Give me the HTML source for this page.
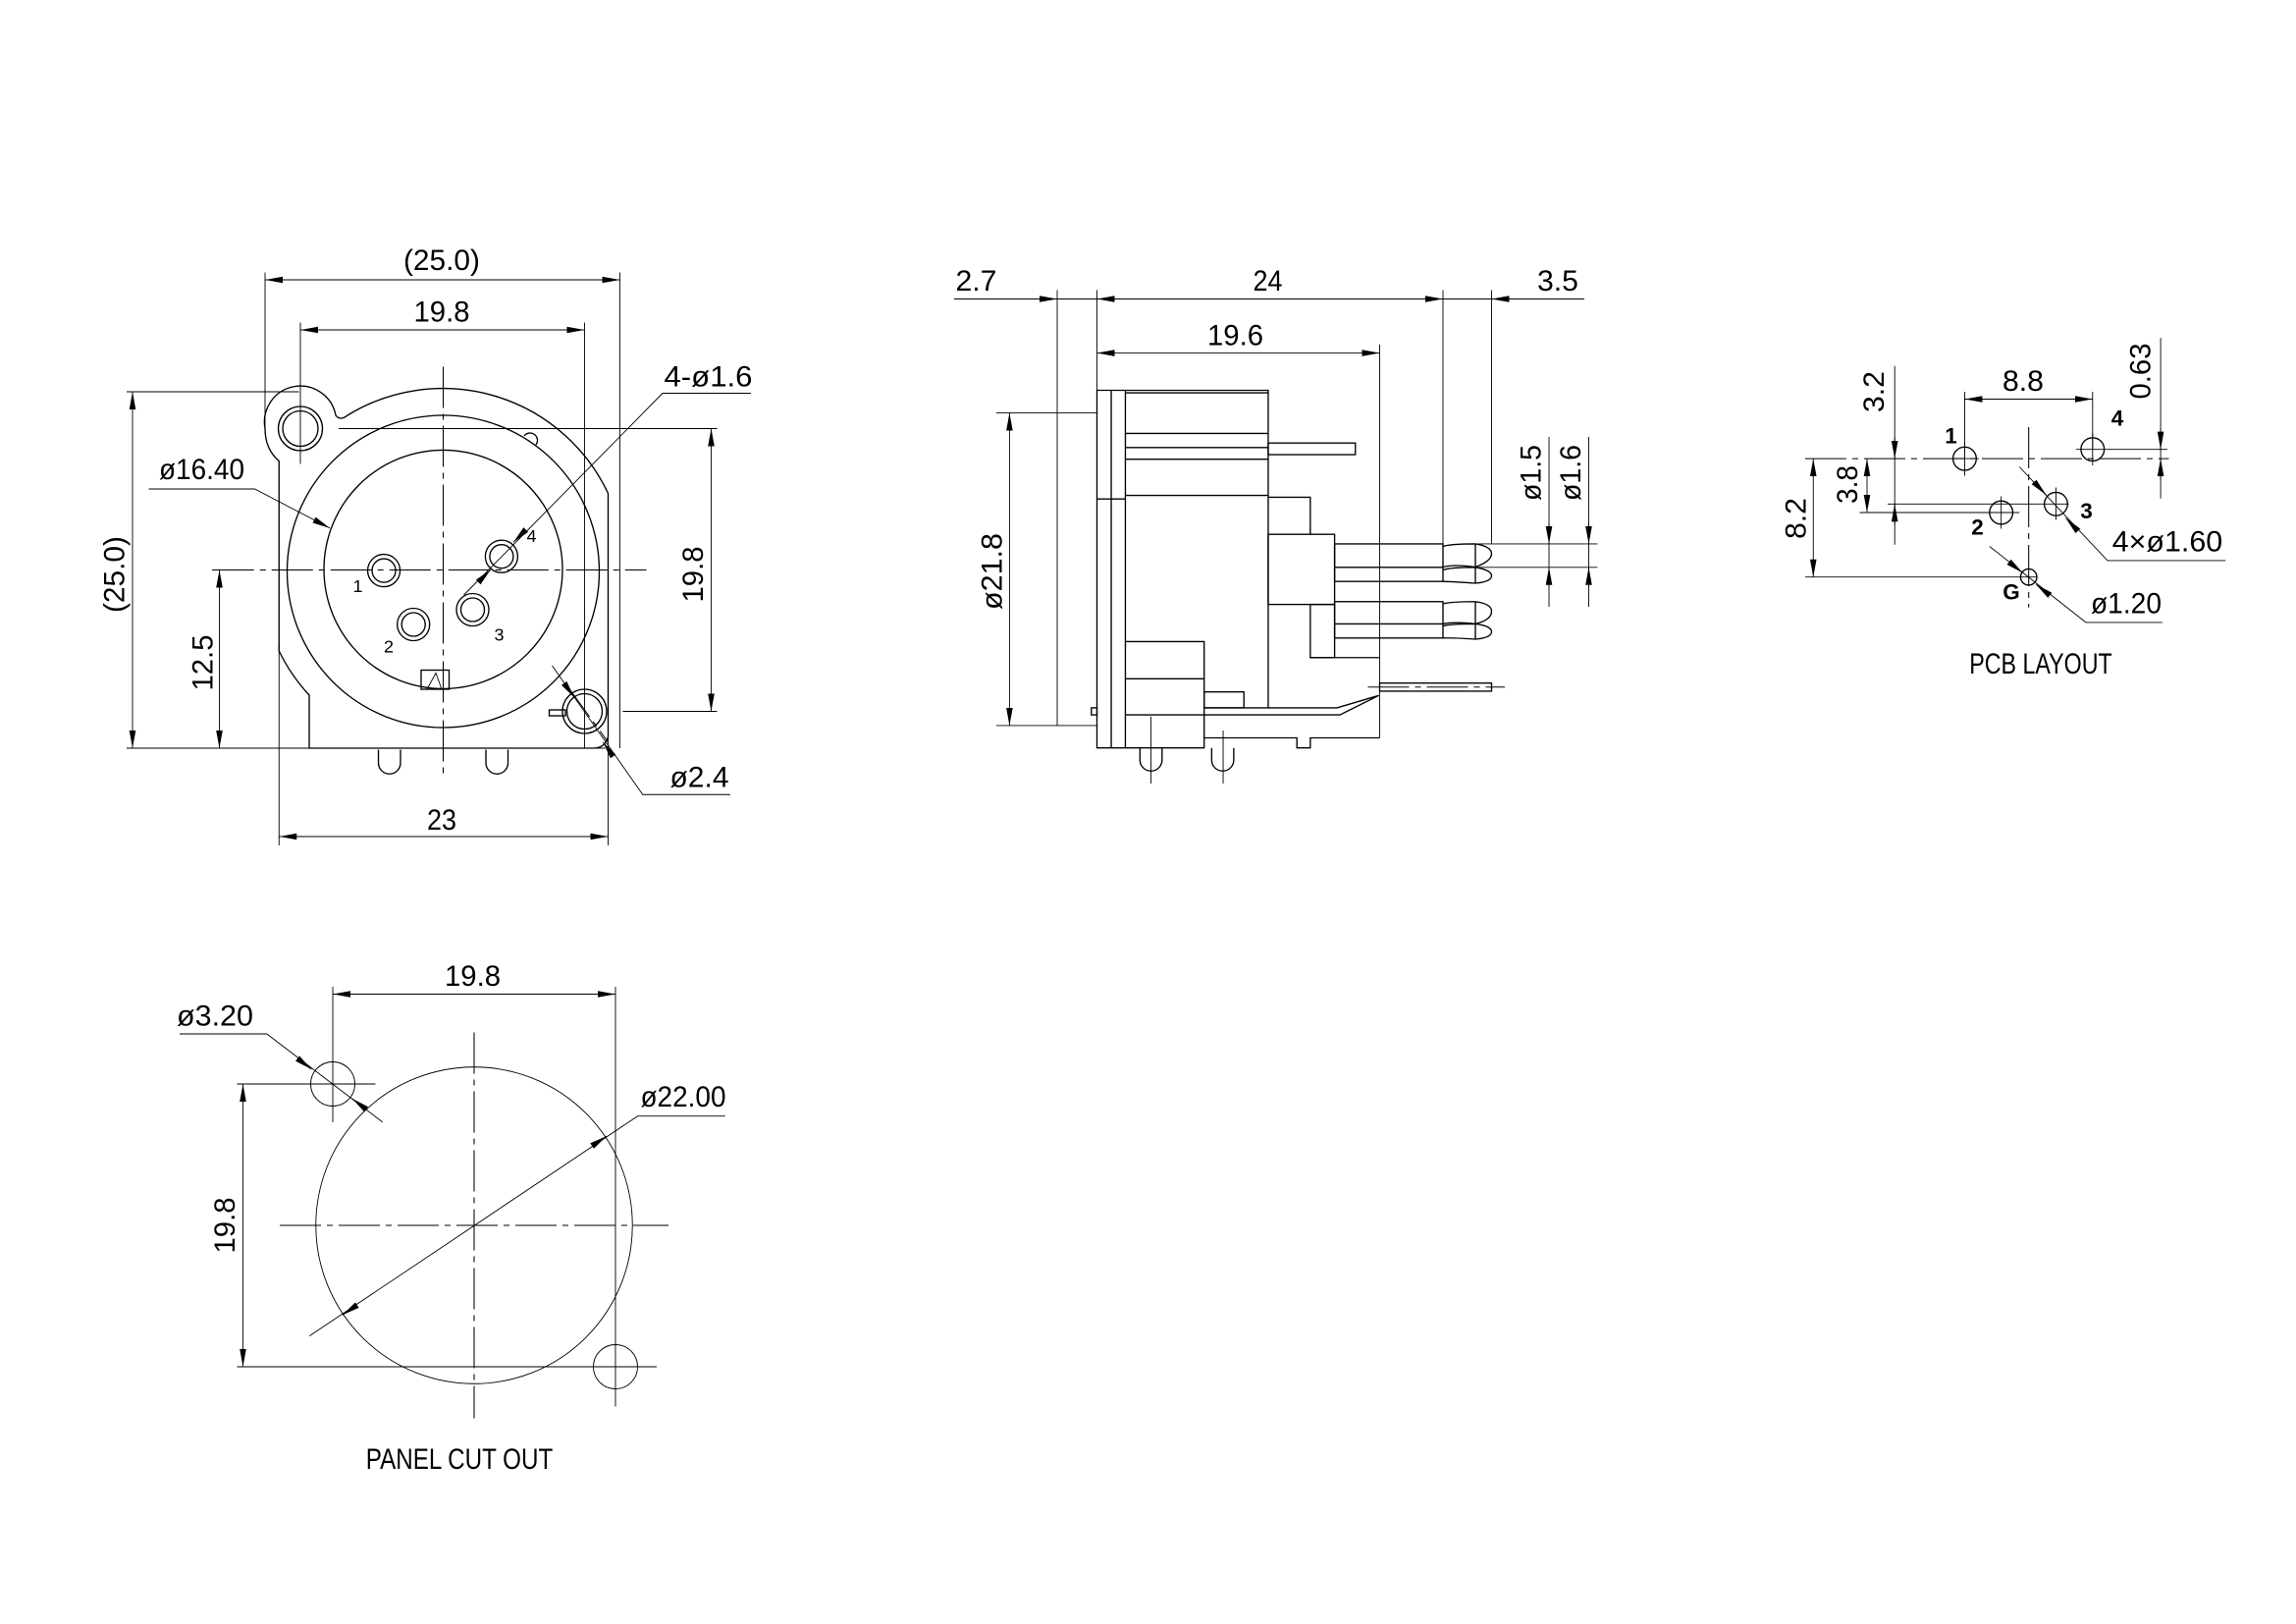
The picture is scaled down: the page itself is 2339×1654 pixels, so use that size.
<!DOCTYPE html>
<html><head><meta charset="utf-8"><style>
html,body{margin:0;padding:0;background:#fff;}
svg{display:block;}
.l{stroke:#000;stroke-width:0.9;fill:none;}
.t{stroke:#000;stroke-width:0.6;fill:none;}
.c{stroke:#000;stroke-width:0.7;fill:none;stroke-dasharray:28 4 4 4;}
text{font-family:"Liberation Sans",sans-serif;font-size:20px;fill:#000;text-anchor:middle;dominant-baseline:central;}
.s{font-size:12px;}
.b{font-size:15px;font-weight:bold;}
</style></head><body>
<svg width="2339" height="1654" viewBox="0 0 1559.33 1102.67" xmlns="http://www.w3.org/2000/svg">
<defs>
<marker id="e" viewBox="-12 -3 12 6" refX="0" refY="0" markerWidth="12" markerHeight="6" markerUnits="userSpaceOnUse" orient="auto"><path d="M0,0 L-12,-2.2 L-12,2.2 Z" fill="#000"/></marker>
<marker id="s" viewBox="0 -3 12 6" refX="0" refY="0" markerWidth="12" markerHeight="6" markerUnits="userSpaceOnUse" orient="auto"><path d="M0,0 L12,-2.2 L12,2.2 Z" fill="#000"/></marker>
</defs>
<rect width="1559.33" height="1102.67" fill="#fff"/>

<!-- ========== FRONT VIEW ========== -->
<g>
<!-- ext lines -->
<path class="t" d="M180 185 V291 M421 185 V508 M204 219 V315 M397 219 V508 M86 266 H203 M86 508 H411 M144 387 H160 M230 291 H487 M423 483 H487 M189.5 437 V574 M413 500 V574"/>
<!-- dims -->
<path class="t" d="M180 190 H421" marker-start="url(#s)" marker-end="url(#e)"/>
<path class="t" d="M204 224 H397" marker-start="url(#s)" marker-end="url(#e)"/>
<path class="t" d="M90 266 V508" marker-start="url(#s)" marker-end="url(#e)"/>
<path class="t" d="M149 387 V508" marker-start="url(#s)" marker-end="url(#e)"/>
<path class="t" d="M483 291 V483" marker-start="url(#s)" marker-end="url(#e)"/>
<path class="t" d="M189.5 568 H413" marker-start="url(#s)" marker-end="url(#e)"/>
<!-- housing outline -->
<path class="l" d="M189.5 313 Q180 305 180 291 A24 24 0 0 1 228 282 Q231 286 236 282 A124 124 0 0 1 413 335 V500 Q411 508 403 508 H210 V472 A124 124 0 0 1 189.5 442 Z"/>
<circle class="l" cx="301" cy="388" r="106"/>
<circle class="l" cx="301" cy="386.6" r="81"/>
<path class="l" d="M356 296 a5 5 0 0 1 8 6"/>
<circle class="l" cx="204" cy="291" r="15"/><circle class="l" cx="204" cy="291" r="12"/>
<circle class="l" cx="397" cy="483" r="15"/><circle class="l" cx="397" cy="483" r="12"/>
<rect class="l" x="373" y="482" width="11" height="4"/>
<!-- pins -->
<circle class="l" cx="260.7" cy="387.4" r="11"/><circle class="l" cx="260.7" cy="387.4" r="8"/>
<circle class="l" cx="280.8" cy="424" r="11"/><circle class="l" cx="280.8" cy="424" r="8"/>
<circle class="l" cx="321" cy="414" r="11"/><circle class="l" cx="321" cy="414" r="8"/>
<circle class="l" cx="340.6" cy="377.8" r="11"/><circle class="l" cx="340.6" cy="377.8" r="8"/>
<text class="s" x="243" y="398">1</text><text class="s" x="264" y="439">2</text>
<text class="s" x="339" y="431">3</text><text class="s" x="361" y="364">4</text>
<rect class="l" x="286" y="455" width="19" height="13"/>
<path class="t" d="M290 468 L296 457 L300 468"/>
<path class="l" d="M257 509 V518 a7.5 7.5 0 0 0 15 0 V509 M330 509 V518 a7.5 7.5 0 0 0 15 0 V509"/>
<!-- centerlines -->
<path class="c" d="M144.5 387 H439"/>
<path class="c" d="M301 249 V526"/>
<path class="c" d="M384 464 L413 504"/>
<!-- leaders -->
<path class="t" d="M101 332 H173 L224 358.6" marker-end="url(#e)"/>
<path class="t" d="M510 267 H450 L315 404"/>
<path class="t" d="M357.1 359.7 L348.7 368.2" marker-end="url(#e)"/>
<path class="t" d="M324.8 395.3 L333.2 386.8" marker-end="url(#e)"/>
<path class="t" d="M375 452 L436.5 539.5 H496"/>
<path class="t" d="M383.1 463.9 L390 473.7" marker-end="url(#e)"/>
<path class="t" d="M416.4 513.6 L409.5 503.8" marker-end="url(#e)"/>
<!-- text -->
<text x="300" y="177" textLength="52" lengthAdjust="spacingAndGlyphs">(25.0)</text>
<text x="300" y="212" textLength="38" lengthAdjust="spacingAndGlyphs">19.8</text>
<text x="78" y="390" textLength="52" lengthAdjust="spacingAndGlyphs" transform="rotate(-90 78 390)">(25.0)</text>
<text x="138" y="450" textLength="38" lengthAdjust="spacingAndGlyphs" transform="rotate(-90 138 450)">12.5</text>
<text x="471" y="390" textLength="38" lengthAdjust="spacingAndGlyphs" transform="rotate(-90 471 390)">19.8</text>
<text x="300" y="557" textLength="20" lengthAdjust="spacingAndGlyphs">23</text>
<text x="137" y="319" textLength="58" lengthAdjust="spacingAndGlyphs">ø16.40</text>
<text x="481" y="256" textLength="60" lengthAdjust="spacingAndGlyphs">4-ø1.6</text>
<text x="475" y="528" textLength="40" lengthAdjust="spacingAndGlyphs">ø2.4</text>
</g>

<!-- ========== SIDE VIEW ========== -->
<g>
<path class="t" d="M648 203 H1076"/>
<path class="t" d="M703 203 L718 203" marker-end="url(#e)"/>
<path class="t" d="M760 203 L745 203" marker-end="url(#e)"/>
<path class="t" d="M965 203 L980 203" marker-end="url(#e)"/>
<path class="t" d="M1028 203 L1013 203" marker-end="url(#e)"/>
<path class="t" d="M745 239.7 H937" marker-start="url(#s)" marker-end="url(#e)"/>
<path class="t" d="M718 197 V492.6 M745 197 V265 M980 197 V369 M1013 197 V369 M937 234 V501"/>
<path class="t" d="M676.6 280.4 H745 M676.6 492.6 H745"/>
<path class="t" d="M685.6 280.4 V492.6" marker-start="url(#s)" marker-end="url(#e)"/>
<!-- body -->
<path class="l" d="M745 265 H764.3 V507.8 H745 Z M754.7 265 V507.8 M745 338.8 H764.3"/>
<rect class="l" x="741.2" y="480.6" width="3.8" height="4.8"/>
<path class="l" d="M764.3 265 H861.3 V336.4 H764.3 M764.3 266.7 H861.3 M764.3 294.3 H861.3 M764.3 303.9 H861.3 M764.3 311.8 H861.3"/>
<rect class="l" x="861.3" y="300.8" width="59.2" height="7.9"/>
<path class="l" d="M861.3 337.6 H889.9 V362.8 M861.3 336.4 V480.6"/>
<rect class="l" x="861.3" y="362.8" width="45.1" height="47.6"/>
<rect class="l" x="889.9" y="410.4" width="16.5" height="36.1"/>
<path class="l" d="M889.9 446.5 H937"/>
<rect class="l" x="906.4" y="369.3" width="73.6" height="25.5"/><path class="l" d="M906.4 385.2 H980"/>
<rect class="l" x="906.4" y="408.5" width="73.6" height="24.7"/><path class="l" d="M906.4 423.6 H980"/>
<!-- tips -->
<path class="l" d="M980 371 Q985 369.3 1002 369.3 Q1013 371 1013 376 Q1013 381 1002 385 Q988 383 980 385 M1002 369.3 V385"/>
<path class="l" d="M980 387 Q985 385.2 1002 385.2 Q1013 387 1013 391 Q1013 395 1002 396 Q988 395 980 394.8 M1002 385.2 V396"/>
<path class="l" d="M980 410 Q985 408.5 1002 408.5 Q1013 410 1013 415 Q1013 421 1002 423.6 Q988 422 980 423.6 M1002 408.5 V423.6"/>
<path class="l" d="M980 425 Q985 423.6 1002 423.6 Q1013 425 1013 429 Q1013 433 1002 434 Q988 433 980 433.2 M1002 423.6 V434"/>
<!-- lower -->
<path class="l" d="M764.3 435.6 H817.8 V507.8 H764.3 M764.3 460.9 H817.8 M764.3 485.4 H817.8"/>
<rect class="l" x="817.8" y="469.8" width="27" height="10.8"/>
<path class="l" d="M817.8 480.6 H908 L936.4 472.2 M817.8 485.4 H910 L936.4 472.2 M817.8 501 H880.8 V507.8 H889.9 V501 H937"/>
<path class="l" d="M774.2 507.8 V516 a7.5 7.5 0 0 0 15 0 V507.8 M822.9 507.8 V516 a7.5 7.5 0 0 0 15 0 V507.8"/>
<path class="t" d="M781.7 486.6 V532 M830.7 496 V532"/>
<rect class="l" x="937" y="463.8" width="76" height="5.5"/>
<path class="c" d="M929 466.5 H1022"/>
<!-- pin dia -->
<path class="t" d="M1052 296.7 V412 M1079 296.7 V412 M1001 369.3 H1085 M1001 385.2 H1085"/>
<path class="t" d="M1052 355 L1052 369.3" marker-end="url(#e)"/>
<path class="t" d="M1052 399 L1052 385.2" marker-end="url(#e)"/>
<path class="t" d="M1079 355 L1079 369.3" marker-end="url(#e)"/>
<path class="t" d="M1079 399 L1079 385.2" marker-end="url(#e)"/>
<text x="663" y="191" textLength="28" lengthAdjust="spacingAndGlyphs">2.7</text>
<text x="861" y="191" textLength="20" lengthAdjust="spacingAndGlyphs">24</text>
<text x="1058" y="191" textLength="28" lengthAdjust="spacingAndGlyphs">3.5</text>
<text x="839" y="228" textLength="38" lengthAdjust="spacingAndGlyphs">19.6</text>
<text x="674" y="388" textLength="52" lengthAdjust="spacingAndGlyphs" transform="rotate(-90 674 388)">ø21.8</text>
<text x="1040" y="321" textLength="38" lengthAdjust="spacingAndGlyphs" transform="rotate(-90 1040 321)">ø1.5</text>
<text x="1067" y="321" textLength="38" lengthAdjust="spacingAndGlyphs" transform="rotate(-90 1067 321)">ø1.6</text>
</g>

<!-- ========== PCB LAYOUT ========== -->
<g>
<circle class="l" cx="1334.3" cy="311.4" r="7.9"/><path class="t" d="M1334.3 300 V323 M1325 311.4 H1344"/>
<circle class="l" cx="1421.2" cy="305.1" r="7.9"/><path class="t" d="M1421.2 294 V316 M1410 305.1 H1472"/>
<circle class="l" cx="1359.1" cy="348" r="7.9"/><path class="t" d="M1359.1 337 V359 M1263 348 H1371.5"/>
<circle class="l" cx="1396.3" cy="342.2" r="7.9"/><path class="t" d="M1396.3 331 V353 M1282 342.2 H1405"/>
<circle class="l" cx="1377.8" cy="391.8" r="5.5"/>
<path class="c" d="M1226 311.4 H1473"/>
<path class="c" d="M1377.8 290 V412.5"/>
<path class="t" d="M1334.3 266 V311 M1421.2 266 V305 M1226 391.8 H1383"/>
<path class="t" d="M1334.3 271 H1421.2" marker-start="url(#s)" marker-end="url(#e)"/>
<path class="t" d="M1286.8 248.5 V369.8"/>
<path class="t" d="M1286.8 297 L1286.8 311.4" marker-end="url(#e)"/>
<path class="t" d="M1286.8 356 L1286.8 342.2" marker-end="url(#e)"/>
<path class="t" d="M1268 311.4 V348" marker-start="url(#s)" marker-end="url(#e)"/>
<path class="t" d="M1231.5 311.4 V391.8" marker-start="url(#s)" marker-end="url(#e)"/>
<path class="t" d="M1467.4 229.4 V338.4"/>
<path class="t" d="M1467.4 291 L1467.4 305.1" marker-end="url(#e)"/>
<path class="t" d="M1467.4 325 L1467.4 311.4" marker-end="url(#e)"/>
<path class="t" d="M1371.5 317 L1431.3 380.6 H1511.5"/>
<path class="t" d="M1381.4 327.3 L1389.6 336" marker-end="url(#e)"/>
<path class="t" d="M1411.2 360.5 L1403 351.8" marker-end="url(#e)"/>
<path class="t" d="M1351.2 371 L1416.6 422.6 H1468.6"/>
<path class="t" d="M1364.4 381.6 L1373.8 389" marker-end="url(#e)"/>
<path class="t" d="M1392.2 404.2 L1382.8 396.8" marker-end="url(#e)"/>
<text class="b" x="1325" y="296">1</text><text class="b" x="1438" y="284">4</text>
<text class="b" x="1417" y="347">3</text><text class="b" x="1343" y="358">2</text>
<text class="b" x="1366" y="402">G</text>
<text x="1273" y="266" textLength="28" lengthAdjust="spacingAndGlyphs" transform="rotate(-90 1273 266)">3.2</text>
<text x="1374" y="259" textLength="28" lengthAdjust="spacingAndGlyphs">8.8</text>
<text x="1454" y="252" textLength="38" lengthAdjust="spacingAndGlyphs" transform="rotate(-90 1454 252)">0.63</text>
<text x="1255" y="329" textLength="26" lengthAdjust="spacingAndGlyphs" transform="rotate(-90 1255 329)">3.8</text>
<text x="1220" y="352" textLength="28" lengthAdjust="spacingAndGlyphs" transform="rotate(-90 1220 352)">8.2</text>
<text x="1472" y="368" textLength="75" lengthAdjust="spacingAndGlyphs">4×ø1.60</text>
<text x="1444" y="410" textLength="48" lengthAdjust="spacingAndGlyphs">ø1.20</text>
<text x="1386" y="451" textLength="97" lengthAdjust="spacingAndGlyphs">PCB LAYOUT</text>
</g>

<!-- ========== PANEL CUT OUT ========== -->
<g>
<circle class="t" cx="322" cy="832" r="107.5"/>
<circle class="t" cx="226" cy="736" r="15"/>
<circle class="t" cx="418" cy="928" r="15"/>
<path class="t" d="M226 670 V762 M418 670 V955 M161 736 H255 M161 928 H446"/>
<path class="t" d="M226 675 H418" marker-start="url(#s)" marker-end="url(#e)"/>
<path class="t" d="M165 736 V928" marker-start="url(#s)" marker-end="url(#e)"/>
<path class="c" d="M190 832 H454"/>
<path class="c" d="M322 701 V963"/>
<path class="t" d="M122 702 H181.2 L259.8 761.9"/>
<path class="t" d="M202 718.7 L211.5 726" marker-end="url(#e)"/>
<path class="t" d="M248.7 753.2 L239.2 745.9" marker-end="url(#e)"/>
<path class="t" d="M210.2 907.1 L433.1 757.8 H492.5"/>
<path class="t" d="M242.6 886.1 L232.6 892.8" marker-end="url(#e)"/>
<path class="t" d="M402 778.1 L412 771.4" marker-end="url(#e)"/>
<text x="321" y="663" textLength="38" lengthAdjust="spacingAndGlyphs">19.8</text>
<text x="146" y="690" textLength="52" lengthAdjust="spacingAndGlyphs">ø3.20</text>
<text x="464" y="745" textLength="58" lengthAdjust="spacingAndGlyphs">ø22.00</text>
<text x="153" y="832" textLength="38" lengthAdjust="spacingAndGlyphs" transform="rotate(-90 153 832)">19.8</text>
<text x="312" y="991" textLength="127" lengthAdjust="spacingAndGlyphs">PANEL CUT OUT</text>
</g>
</svg>
</body></html>
